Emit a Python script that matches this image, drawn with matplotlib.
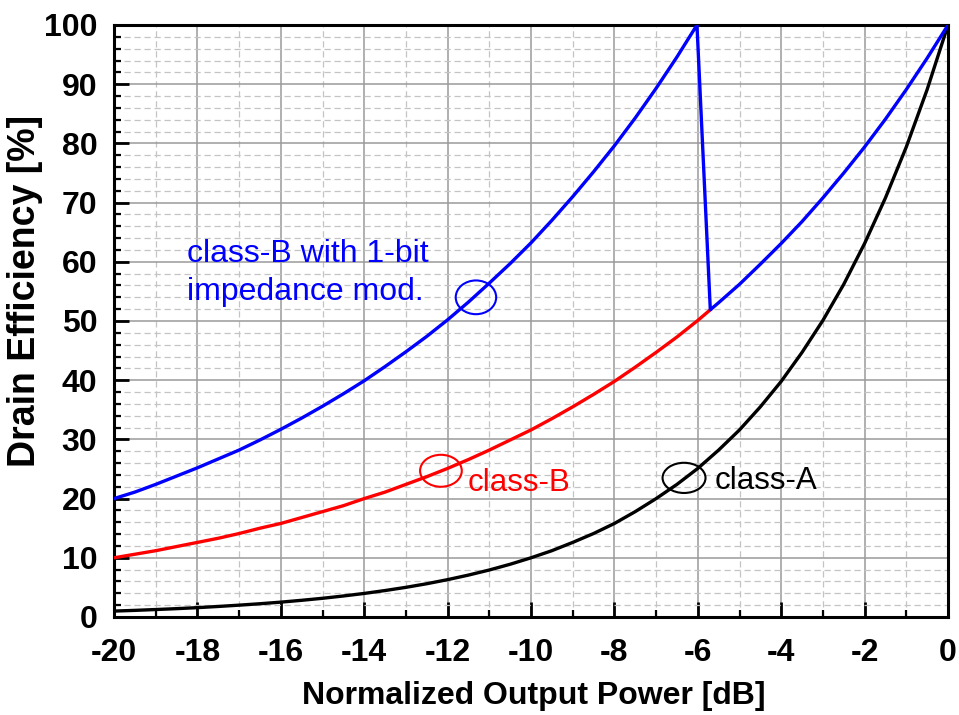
import matplotlib
matplotlib.use("Agg")
import matplotlib.pyplot as plt
from matplotlib.patches import Ellipse
from matplotlib.ticker import MultipleLocator

plt.rcParams['font.family'] = ['Liberation Sans', 'DejaVu Sans']
plt.rcParams['axes.unicode_minus'] = False

# ---- data ----
x_a = [-20, -19.5, -19, -18.5, -18, -17.5, -17, -16.5, -16, -15.5, -15, -14.5, -14,
       -13.5, -13, -12.5, -12, -11.5, -11, -10.5, -10, -9.5, -9, -8.5, -8, -7.5, -7,
       -6.5, -6, -5.5, -5, -4.5, -4, -3.5, -3, -2.5, -2, -1.5, -1, -0.5, 0]
eff_class_a = [1.00, 1.12, 1.26, 1.41, 1.58, 1.78, 2.00, 2.24, 2.51, 2.82, 3.16, 3.55, 3.98,
               4.47, 5.01, 5.62, 6.31, 7.08, 7.94, 8.91, 10.0, 11.2, 12.6, 14.1, 15.8, 17.8, 20.0,
               22.4, 25.1, 28.2, 31.6, 35.5, 39.8, 44.7, 50.1, 56.2, 63.1, 70.8, 79.4, 89.1, 100]

x_b = [-20, -19.5, -19, -18.5, -18, -17.5, -17, -16.5, -16, -15.5, -15, -14.5, -14,
       -13.5, -13, -12.5, -12, -11.5, -11, -10.5, -10, -9.5, -9, -8.5, -8, -7.5, -7,
       -6.5, -6, -5.7]
eff_class_b = [10.0, 10.6, 11.2, 11.9, 12.6, 13.3, 14.1, 15.0, 15.8, 16.8, 17.8, 18.8, 20.0,
               21.1, 22.4, 23.7, 25.1, 26.6, 28.2, 29.9, 31.6, 33.5, 35.5, 37.6, 39.8, 42.2, 44.7,
               47.3, 50.1, 51.9]

x_mod = [-20, -19.5, -19, -18.5, -18, -17.5, -17, -16.5, -16, -15.5, -15, -14.5, -14,
         -13.5, -13, -12.5, -12, -11.5, -11, -10.5, -10, -9.5, -9, -8.5, -8, -7.5, -7,
         -6.5, -6.02, -5.7, -5.5, -5, -4.5, -4, -3.5, -3, -2.5, -2, -1.5, -1, -0.5, 0]
eff_mod = [20.0, 21.1, 22.4, 23.8, 25.2, 26.7, 28.2, 29.9, 31.7, 33.6, 35.6, 37.7, 39.9,
           42.3, 44.8, 47.4, 50.2, 53.2, 56.4, 59.7, 63.2, 67.0, 71.0, 75.2, 79.6, 84.3, 89.3,
           94.6, 100.0, 51.9, 53.1, 56.2, 59.6, 63.1, 66.8, 70.8, 75.0, 79.4, 84.1, 89.1, 94.4, 100]

x_ticks = [-20, -18, -16, -14, -12, -10, -8, -6, -4, -2, 0]
y_ticks = [0, 10, 20, 30, 40, 50, 60, 70, 80, 90, 100]

fig = plt.figure(figsize=(9.59, 7.15), dpi=100)
ax = fig.add_axes([114/959, 1-617/715, (948-114)/959, (617-25)/715])

ax.set_xlim(-20, 0)
ax.set_ylim(0, 100)
ax.set_xticks(x_ticks)
ax.set_yticks(y_ticks)
ax.xaxis.set_minor_locator(MultipleLocator(1))
ax.yaxis.set_minor_locator(MultipleLocator(2))

ax.grid(which='major', color='#9a9a9a', linestyle='-', linewidth=1.1, zorder=0)
ax.grid(which='minor', color='#c4c4c4', linestyle=(0, (5, 3)), linewidth=0.9, zorder=0)
ax.set_axisbelow(True)

ax.plot(x_a, eff_class_a, color='black', lw=2.4, zorder=3)
ax.plot(x_b, eff_class_b, color='#ff0000', lw=2.4, zorder=3)
ax.plot(x_mod, eff_mod, color='#0000ff', lw=2.4, zorder=4)

for sp in ax.spines.values():
    sp.set_linewidth(2.2)
    sp.set_color('black')

ax.tick_params(which='major', direction='in', length=11, width=2.0, labelsize=23)
ax.tick_params(which='minor', direction='in', length=5, width=1.6)
ax.tick_params(axis='x', which='major', pad=15)
ax.tick_params(axis='y', which='major', pad=12)
for lbl in ax.get_xticklabels() + ax.get_yticklabels():
    lbl.set_fontweight('bold')

ax.set_xlabel('Normalized Output Power [dB]', fontsize=23, fontweight='bold')
ax.set_ylabel('Drain Efficiency [%]', fontsize=27, fontweight='bold')
ax.xaxis.set_label_coords(0.503, -0.108)
ax.yaxis.set_label_coords(-0.085, 0.551)

# annotation ellipses
ax.add_patch(Ellipse((-11.32, 54.0), 0.97, 5.7, fill=False, edgecolor='#0000ff', lw=1.5, zorder=5))
ax.add_patch(Ellipse((-12.16, 24.7), 1.0, 5.4, fill=False, edgecolor='#ff0000', lw=1.5, zorder=5))
ax.add_patch(Ellipse((-6.33, 23.5), 1.03, 5.1, fill=False, edgecolor='black', lw=1.5, zorder=5))

ax.text(-18.25, 60.0, 'class-B with 1-bit', color='#0000ff', fontsize=23, va='baseline', ha='left')
ax.text(-18.25, 53.5, 'impedance mod.', color='#0000ff', fontsize=23, va='baseline', ha='left')
ax.text(-11.53, 21.3, 'class-B', color='#ff0000', fontsize=22.5, va='baseline', ha='left')
ax.text(-5.59, 21.6, 'class-A', color='black', fontsize=22.5, va='baseline', ha='left')

fig.savefig('out.png', dpi=100)
